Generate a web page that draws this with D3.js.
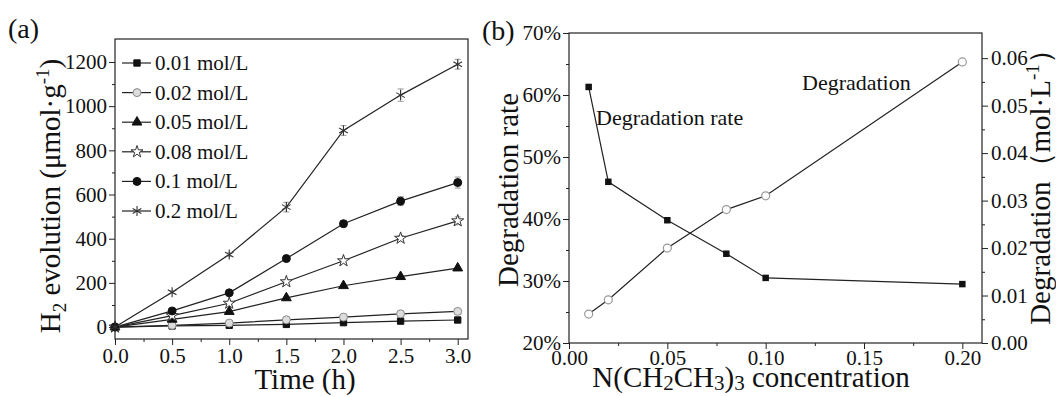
<!DOCTYPE html>
<html lang="en">
<head>
<meta charset="UTF-8">
<title>H2 evolution and degradation</title>
<script src="https://d3js.org/d3.v7.min.js"></script>
<style>
  body{margin:0;background:#fff}
  svg text{font-family:"Liberation Serif","Times New Roman",serif;fill:#111}
  .tick line{stroke:#222}
</style>
</head>
<body>
<svg id="chart" width="1056" height="397"></svg>
<script>
// ---- panel (a) data ----
var times = [0, 0.5, 1.0, 1.5, 2.0, 2.5, 3.0];
var concNames = ["0.01 mol/L", "0.02 mol/L", "0.05 mol/L", "0.08 mol/L", "0.1 mol/L", "0.2 mol/L"];
var h2_001 = [0, 5, 8, 12, 20, 27, 32];
var h2_002 = [0, 8, 18, 33, 45, 60, 71];
var h2_005 = [0, 35, 70, 132, 187, 228, 267];
var h2_008 = [0, 52, 108, 205, 300, 402, 481];
var h2_01  = [0, 73, 155, 310, 468, 570, 654];
var h2_02  = [0, 158, 328, 543, 890, 1050, 1190];
var err_08 = [0, 4, 8, 10, 10, 12, 18];
var err_01 = [0, 5, 8, 10, 14, 20, 25];
var err_02 = [0, 6, 8, 22, 22, 28, 22];
var timeTicks = [0, 0.5, 1.0, 1.5, 2.0, 2.5, 3.0];
var h2Ticks = [0, 200, 400, 600, 800, 1000, 1200];

// ---- panel (b) data ----
var teaConc = [0.01, 0.02, 0.05, 0.08, 0.10, 0.20];
var degRate = [61.3, 46.0, 39.8, 34.4, 30.5, 29.5];
var degAmount = [0.0061, 0.0091, 0.0200, 0.0281, 0.0310, 0.0592];
var concTicks = [0, 0.05, 0.10, 0.15, 0.20];
var rateTicks = [20, 30, 40, 50, 60, 70];
var amountTicks = [0, 0.01, 0.02, 0.03, 0.04, 0.05, 0.06];

var serif = '"Liberation Serif","Times New Roman",serif';
var svg = d3.select("#chart");

function addAxis(g, axis, minorAxis) {
  g.call(axis);
  g.attr("font-family", null);
  g.select(".domain").remove();
  g.selectAll("text").style("font-size", "21px").style("font-family", serif).attr("fill", "#111");
  var m = g.append("g").call(minorAxis);
  m.select(".domain").remove();
  m.selectAll("text").remove();
}

// ================= panel (a) =================
var xa = d3.scaleLinear().domain([0, 3.09]).range([115, 468]);
var ya = d3.scaleLinear().domain([-54, 1304]).range([339, 39]);

var gaX = svg.append("g").attr("transform", "translate(0,339)");
addAxis(gaX, d3.axisBottom(xa).tickValues(timeTicks).tickFormat(d3.format(".1f")).tickSize(6).tickPadding(3),
  d3.axisBottom(xa).tickValues([0.25, 0.75, 1.25, 1.75, 2.25, 2.75]).tickSize(3));
var gaY = svg.append("g").attr("transform", "translate(115,0)");
addAxis(gaY, d3.axisLeft(ya).tickValues(h2Ticks).tickFormat(d3.format("d")).tickSize(6).tickPadding(2),
  d3.axisLeft(ya).tickValues([100, 300, 500, 700, 900, 1100]).tickSize(3));

svg.append("rect").attr("x", 115).attr("y", 39).attr("width", 353).attr("height", 300)
  .attr("fill", "none").attr("stroke", "#222").attr("stroke-width", 1.2);

var seriesA = [
  {vals: h2_001, sym: d3.symbolSquare, size: 40, fill: "#111", stroke: "#111"},
  {vals: h2_002, sym: d3.symbolCircle, size: 50, fill: "#ddd", stroke: "#888"},
  {vals: h2_005, sym: d3.symbolTriangle, size: 42, fill: "#111", stroke: "#111"},
  {vals: h2_008, sym: d3.symbolStar, size: 45, fill: "#fff", stroke: "#333", err: err_08},
  {vals: h2_01,  sym: d3.symbolCircle, size: 50, fill: "#111", stroke: "#111", err: err_01},
  {vals: h2_02,  sym: null, fill: "none", stroke: "#333", err: err_02, aster: true}
];

var lineA = d3.line().x(function (d, i) { return xa(times[i]); }).y(function (d) { return ya(d); });

seriesA.forEach(function (s) {
  svg.append("path").datum(s.vals).attr("d", lineA)
    .attr("fill", "none").attr("stroke", "#222").attr("stroke-width", 1.2);
});
seriesA.forEach(function (s) {
  if (!s.err) return;
  s.vals.forEach(function (v, i) {
    if (!s.err[i]) return;
    var x = xa(times[i]);
    var eg = svg.append("g").attr("stroke", "#999").attr("stroke-width", 1);
    eg.append("line").attr("x1", x).attr("x2", x).attr("y1", ya(v - s.err[i])).attr("y2", ya(v + s.err[i]));
    eg.append("line").attr("x1", x - 3).attr("x2", x + 3).attr("y1", ya(v - s.err[i])).attr("y2", ya(v - s.err[i]));
    eg.append("line").attr("x1", x - 3).attr("x2", x + 3).attr("y1", ya(v + s.err[i])).attr("y2", ya(v + s.err[i]));
  });
});

function drawMarker(g, s, x, y) {
  if (s.aster) {
    var r = 5;
    var a = g.append("g").attr("stroke", s.stroke).attr("stroke-width", 1.1);
    [0, 60, 120].forEach(function (ang) {
      var rad = ang * Math.PI / 180;
      a.append("line").attr("x1", x - r * Math.sin(rad)).attr("y1", y - r * Math.cos(rad))
        .attr("x2", x + r * Math.sin(rad)).attr("y2", y + r * Math.cos(rad));
    });
    return;
  }
  g.append("path").attr("d", d3.symbol().type(s.sym).size(s.size)())
    .attr("transform", "translate(" + x + "," + y + ")")
    .attr("fill", s.fill).attr("stroke", s.stroke).attr("stroke-width", 1);
}

seriesA.forEach(function (s) {
  s.vals.forEach(function (v, i) { drawMarker(svg, s, xa(times[i]), ya(v)); });
});

// legend
var leg = svg.append("g");
concNames.forEach(function (name, i) {
  var y = 63 + i * 29.6;
  leg.append("line").attr("x1", 122).attr("x2", 151).attr("y1", y).attr("y2", y)
    .attr("stroke", "#222").attr("stroke-width", 1.2);
  drawMarker(leg, seriesA[i], 137, y);
  leg.append("text").attr("x", 155).attr("y", y + 7).style("font-size", "21px").text(name);
});

svg.append("text").attr("x", 8).attr("y", 38).style("font-size", "28px").text("(a)");
svg.append("text").attr("x", 305).attr("y", 389).attr("text-anchor", "middle").style("font-size", "29px").text("Time (h)");
var ta = svg.append("text").attr("transform", "translate(60,196) rotate(-90)").attr("text-anchor", "middle").style("font-size", "29px");
ta.append("tspan").text("H");
ta.append("tspan").attr("dy", 6).style("font-size", "19px").text("2");
ta.append("tspan").attr("dy", -6).text(" evolution (\u03bcmol\u00b7g");
ta.append("tspan").attr("dy", -11).style("font-size", "19px").text("-1");
ta.append("tspan").attr("dy", 11).text(")");

// ================= panel (b) =================
var xb = d3.scaleLinear().domain([0, 0.21]).range([569, 982]);
var ybL = d3.scaleLinear().domain([20, 70]).range([343, 33]);
var ybR = d3.scaleLinear().domain([0, 0.0653]).range([343, 33]);

var gbX = svg.append("g").attr("transform", "translate(0,343)");
addAxis(gbX, d3.axisBottom(xb).tickValues(concTicks).tickFormat(d3.format(".2f")).tickSize(6).tickPadding(1),
  d3.axisBottom(xb).tickValues([0.025, 0.075, 0.125, 0.175]).tickSize(3));
var gbL = svg.append("g").attr("transform", "translate(569,0)");
addAxis(gbL, d3.axisLeft(ybL).tickValues(rateTicks).tickFormat(function (d) { return d + "%"; }).tickSize(6).tickPadding(2),
  d3.axisLeft(ybL).tickValues([25, 35, 45, 55, 65]).tickSize(3));
var gbR = svg.append("g").attr("transform", "translate(982,0)");
addAxis(gbR, d3.axisRight(ybR).tickValues(amountTicks).tickFormat(d3.format(".2f")).tickSize(6).tickPadding(3),
  d3.axisRight(ybR).tickValues([0.005, 0.015, 0.025, 0.035, 0.045, 0.055]).tickSize(3));

svg.append("rect").attr("x", 569).attr("y", 33).attr("width", 413).attr("height", 310)
  .attr("fill", "none").attr("stroke", "#222").attr("stroke-width", 1.2);

svg.append("path").datum(degRate)
  .attr("d", d3.line().x(function (d, i) { return xb(teaConc[i]); }).y(function (d) { return ybL(d); }))
  .attr("fill", "none").attr("stroke", "#222").attr("stroke-width", 1.2);
svg.append("path").datum(degAmount)
  .attr("d", d3.line().x(function (d, i) { return xb(teaConc[i]); }).y(function (d) { return ybR(d); }))
  .attr("fill", "none").attr("stroke", "#222").attr("stroke-width", 1.2);

degRate.forEach(function (v, i) {
  svg.append("path").attr("d", d3.symbol().type(d3.symbolSquare).size(42)())
    .attr("transform", "translate(" + xb(teaConc[i]) + "," + ybL(v) + ")").attr("fill", "#111");
});
degAmount.forEach(function (v, i) {
  svg.append("circle").attr("cx", xb(teaConc[i])).attr("cy", ybR(v)).attr("r", 4)
    .attr("fill", "#fff").attr("stroke", "#999").attr("stroke-width", 1.2);
});

svg.append("text").attr("x", 596).attr("y", 125).style("font-size", "22px").text("Degradation rate");
svg.append("text").attr("x", 802).attr("y", 90).style("font-size", "22px").text("Degradation");

svg.append("text").attr("x", 482).attr("y", 40).style("font-size", "28px").text("(b)");
var tb = svg.append("text").attr("x", 751).attr("y", 387).attr("text-anchor", "middle").style("font-size", "29px");
tb.append("tspan").text("N(CH");
tb.append("tspan").attr("dy", 3).style("font-size", "21px").text("2");
tb.append("tspan").attr("dy", -3).text("CH");
tb.append("tspan").attr("dy", 3).style("font-size", "21px").text("3");
tb.append("tspan").attr("dy", -3).text(")");
tb.append("tspan").attr("dy", 3).style("font-size", "21px").text("3");
tb.append("tspan").attr("dy", -3).text(" concentration");

svg.append("text").attr("transform", "translate(518,190) rotate(-90)").attr("text-anchor", "middle")
  .style("font-size", "29px").text("Degradation rate");
var tr = svg.append("text").attr("transform", "translate(1050,180) rotate(-90)").attr("text-anchor", "middle").style("font-size", "29px");
tr.append("tspan").text("Degradation\uff08mol\u00b7L");
tr.append("tspan").attr("dy", -11).style("font-size", "19px").text("-1");
tr.append("tspan").attr("dy", 11).text("\uff09");
</script>
</body>
</html>
